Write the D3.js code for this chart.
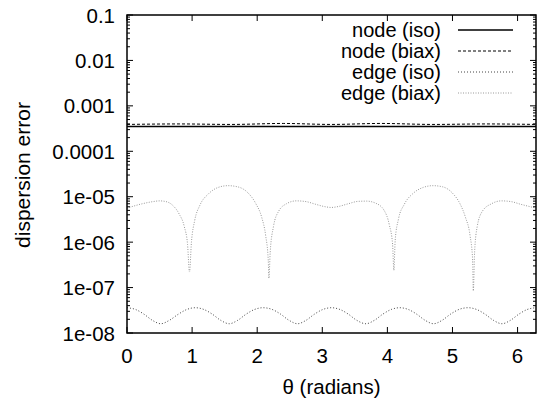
<!DOCTYPE html>
<html>
<head>
<meta charset="utf-8">
<script src="https://cdn.jsdelivr.net/npm/d3@7"></script>
<style>
  body { margin: 0; background: #fff; }
  svg { display: block; font-family: "Liberation Sans", Arial, sans-serif; }
</style>
</head>
<body>
<div id="chart"></div>
<script>
// series
const seriesNames = ["node (iso)", "node (biax)", "edge (iso)", "edge (biax)"];

const nodeIsoTheta = [0, 1.0, 2.0, 3.14, 4.2, 5.3, 6.283];
const nodeIsoValues = [3.5e-4, 3.5e-4, 3.5e-4, 3.5e-4, 3.5e-4, 3.5e-4, 3.5e-4];

const nodeBiaxTheta = [0, 0.8, 1.6, 2.4, 3.14, 3.9, 4.7, 5.5, 6.283];
const nodeBiaxValues = [3.9e-4, 4.0e-4, 3.9e-4, 4.1e-4, 3.9e-4, 4.1e-4, 3.9e-4, 4.0e-4, 3.9e-4];

const edgeIsoTheta = [0, 0.13, 0.26, 0.39, 0.52, 0.65, 0.79, 0.92, 1.05, 1.18, 1.31, 1.44, 1.57,
  1.70, 1.83, 1.96, 2.09, 2.23, 2.36, 2.49, 2.62, 2.75, 2.88, 3.01, 3.14, 3.27, 3.40, 3.53, 3.67,
  3.80, 3.93, 4.06, 4.19, 4.32, 4.45, 4.58, 4.71, 4.84, 4.97, 5.10, 5.24, 5.37, 5.50, 5.63, 5.76,
  5.89, 6.02, 6.15, 6.283];
const edgeIsoValues = [3.6e-8, 3.3e-8, 2.6e-8, 1.9e-8, 1.6e-8, 1.9e-8, 2.6e-8, 3.3e-8, 3.6e-8,
  3.3e-8, 2.6e-8, 1.9e-8, 1.6e-8, 1.9e-8, 2.6e-8, 3.3e-8, 3.6e-8, 3.3e-8, 2.6e-8, 1.9e-8, 1.6e-8,
  1.9e-8, 2.6e-8, 3.3e-8, 3.6e-8, 3.3e-8, 2.6e-8, 1.9e-8, 1.6e-8, 1.9e-8, 2.6e-8, 3.3e-8, 3.6e-8,
  3.3e-8, 2.6e-8, 1.9e-8, 1.6e-8, 1.9e-8, 2.6e-8, 3.3e-8, 3.6e-8, 3.3e-8, 2.6e-8, 1.9e-8, 1.6e-8,
  1.9e-8, 2.6e-8, 3.3e-8, 3.6e-8];

const edgeBiaxTheta = [0, 0.2, 0.4, 0.5, 0.6, 0.7, 0.8, 0.88, 0.93, 0.96, 0.99, 1.04, 1.12, 1.25,
  1.4, 1.55, 1.7, 1.85, 1.98, 2.07, 2.13, 2.17, 2.18, 2.2, 2.25, 2.33, 2.45, 2.6, 2.75, 2.9, 3.05,
  3.14, 3.25, 3.4, 3.55, 3.68, 3.82, 3.95, 4.03, 4.08, 4.1, 4.12, 4.17, 4.26, 4.4, 4.55, 4.7, 4.85,
  5.0, 5.12, 5.2, 5.27, 5.31, 5.32, 5.34, 5.38, 5.46, 5.6, 5.75, 5.9, 6.05, 6.2, 6.283];
const edgeBiaxValues = [5.6e-6, 6.8e-6, 7.8e-6, 8.1e-6, 7.8e-6, 6.5e-6, 4.2e-6, 2.2e-6, 9e-7, 2.2e-7,
  1.0e-6, 3.0e-6, 6.5e-6, 1.15e-5, 1.6e-5, 1.75e-5, 1.65e-5, 1.25e-5, 7e-6, 3.5e-6, 1.4e-6, 4e-7,
  1.6e-7, 6e-7, 2.2e-6, 4.8e-6, 7e-6, 8.1e-6, 7.8e-6, 6.8e-6, 6.0e-6, 5.8e-6, 6.1e-6, 7e-6, 7.9e-6,
  8.0e-6, 7.2e-6, 5e-6, 2.4e-6, 9e-7, 2.4e-7, 1.1e-6, 3.2e-6, 6.8e-6, 1.2e-5, 1.6e-5, 1.75e-5,
  1.65e-5, 1.2e-5, 6.8e-6, 3.5e-6, 1.4e-6, 4e-7, 8.5e-8, 6e-7, 2.2e-6, 4.8e-6, 7e-6, 8.1e-6, 7.8e-6,
  6.8e-6, 6e-6, 5.6e-6];

const xTicks = [0, 1, 2, 3, 4, 5, 6];
const yTicks = [1e-8, 1e-7, 1e-6, 1e-5, 1e-4, 1e-3, 1e-2, 1e-1];
const yTickLabels = ["1e-08", "1e-07", "1e-06", "1e-05", "0.0001", "0.001", "0.01", "0.1"];

const width = 537, height = 403;
const margin = { left: 127, right: 1, top: 15, bottom: 70 };

const svg = d3.select("#chart").append("svg")
    .attr("width", width)
    .attr("height", height);

const x = d3.scaleLinear().domain([0, 2 * Math.PI]).range([margin.left, width - margin.right]);
const y = d3.scaleLog().domain([1e-8, 0.1]).range([height - margin.bottom, margin.top]);

const styles = [
    { color: "#000", width: 1.4, dash: null },
    { color: "#000", width: 1, dash: "3,2" },
    { color: "#444", width: 1, dash: "1,2" },
    { color: "#999", width: 1, dash: "1,1.5" }
];

const series = [
    { theta: nodeIsoTheta, values: nodeIsoValues },
    { theta: nodeBiaxTheta, values: nodeBiaxValues },
    { theta: edgeIsoTheta, values: edgeIsoValues },
    { theta: edgeBiaxTheta, values: edgeBiaxValues }
];

const line = d3.line().x(d => x(d[0])).y(d => y(d[1])).curve(d3.curveMonotoneX);

// curves (draw edge first, node on top)
[3, 2, 1, 0].forEach(i => {
    const s = series[i];
    svg.append("path")
        .datum(s.theta.map((t, k) => [t, s.values[k]]))
        .attr("d", line)
        .attr("fill", "none")
        .attr("stroke", styles[i].color)
        .attr("stroke-width", styles[i].width)
        .attr("stroke-dasharray", styles[i].dash);
});

// ticks (inside, mirrored on every side)
const x0 = x.range()[0], x1 = x.range()[1];
const yb = y.range()[0], yt = y.range()[1];
const ticksG = svg.append("g").attr("stroke", "#000").attr("stroke-width", 1);
xTicks.forEach(t => {
    ticksG.append("line").attr("x1", x(t)).attr("x2", x(t)).attr("y1", yb).attr("y2", yb - 6);
    ticksG.append("line").attr("x1", x(t)).attr("x2", x(t)).attr("y1", yt).attr("y2", yt + 6);
});
yTicks.forEach((t, i) => {
    ticksG.append("line").attr("x1", x0).attr("x2", x0 + 6).attr("y1", y(t)).attr("y2", y(t));
    ticksG.append("line").attr("x1", x1).attr("x2", x1 - 6).attr("y1", y(t)).attr("y2", y(t));
    if (i < yTicks.length - 1) {
        for (let m = 2; m <= 9; m++) {
            ticksG.append("line").attr("x1", x0).attr("x2", x0 + 3).attr("y1", y(t * m)).attr("y2", y(t * m));
            ticksG.append("line").attr("x1", x1).attr("x2", x1 - 3).attr("y1", y(t * m)).attr("y2", y(t * m));
        }
    }
});

// frame
svg.append("rect")
    .attr("x", x0).attr("y", yt)
    .attr("width", x1 - x0).attr("height", yb - yt)
    .attr("fill", "none").attr("stroke", "#000").attr("stroke-width", 1.5);

// tick labels
svg.append("g").selectAll("text").data(xTicks).join("text")
    .attr("x", d => x(d)).attr("y", yb + 30)
    .attr("text-anchor", "middle")
    .attr("font-size", 20.5)
    .text(d => d);

svg.append("g").selectAll("text").data(yTicks).join("text")
    .attr("x", x0 - 12).attr("y", d => y(d) + 7.5)
    .attr("text-anchor", "end")
    .attr("font-size", 20.5)
    .text((d, i) => yTickLabels[i]);

// axis titles
svg.append("text")
    .attr("x", (x0 + x1) / 2).attr("y", 394)
    .attr("text-anchor", "middle")
    .attr("font-size", 20.5)
    .text("\u03b8 (radians)");

svg.append("text")
    .attr("transform", `translate(30, 175) rotate(-90)`)
    .attr("text-anchor", "middle")
    .attr("font-size", 21)
    .text("dispersion error");

// legend
const legend = svg.append("g");
seriesNames.forEach((name, i) => {
    const ly = 30 + i * 21;
    legend.append("text")
        .attr("x", 441).attr("y", ly + 7)
        .attr("text-anchor", "end")
        .attr("font-size", 20)
        .text(name);
    legend.append("line")
        .attr("x1", 458).attr("x2", 513).attr("y1", ly).attr("y2", ly)
        .attr("stroke", styles[i].color)
        .attr("stroke-width", styles[i].width)
        .attr("stroke-dasharray", styles[i].dash);
});
</script>
</body>
</html>
